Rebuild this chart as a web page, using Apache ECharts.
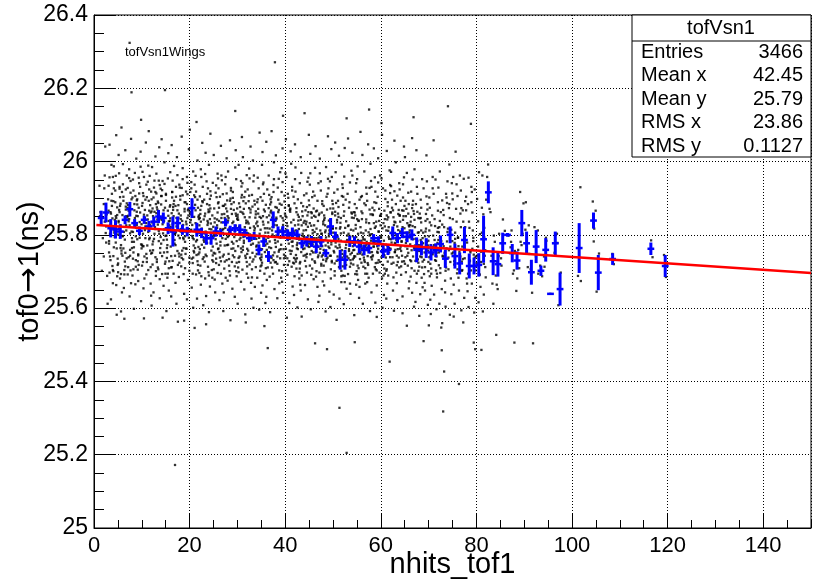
<!DOCTYPE html>
<html>
<head>
<meta charset="utf-8">
<script src="https://cdn.jsdelivr.net/npm/echarts@6/dist/echarts.min.js"></script>
<style>
  html, body { margin: 0; padding: 0; background: #fff; }
  #main { width: 815px; height: 588px; }
</style>
</head>
<body>
<div id="main"></div>
<script>
// tof0->1 values per nhits_tof1 bin (index = bin)
var scatterByHits = [
  [], // 0
  [25.862, 25.791, 25.934, 25.702, 25.851], // 1
  [25.823, 25.741, 25.897, 25.962, 25.688, 25.805, 25.927, 25.612, 25.856, 26.041, 25.779, 25.884, 25.836], // 2
  [25.912, 25.783, 25.845, 25.697, 25.958, 25.731, 25.866, 25.624, 25.803, 25.991, 25.752, 25.879, 26.046, 25.668, 25.827, 25.934, 25.715, 25.858, 25.776, 25.893, 25.741, 25.819, 25.957, 25.704, 25.862, 25.838], // 3
  [25.806, 25.921, 25.742, 25.663, 25.875, 25.987, 25.794, 25.851, 25.718, 25.943, 25.582, 25.829, 26.072, 25.766, 25.892, 25.687, 25.841, 25.961, 25.735, 25.812, 25.763, 25.889, 25.701, 25.846, 25.927, 25.779, 25.854], // 4
  [25.854, 25.772, 25.931, 25.698, 25.817, 25.885, 25.643, 26.018, 25.749, 25.903, 25.796, 25.968, 25.722, 25.862, 25.591, 25.838, 25.917, 25.764, 26.093, 25.681, 25.743, 25.868, 25.801, 25.926, 25.693, 25.834, 25.757, 25.879], // 5
  [25.893, 25.751, 25.826, 25.962, 25.704, 25.869, 25.787, 25.938, 25.655, 25.848, 26.031, 25.736, 25.904, 25.812, 25.571, 25.877, 25.993, 25.727, 25.841, 25.808, 25.714, 25.886, 25.763, 25.851, 25.692, 25.924, 25.797], // 6
  [26.324, 26.189, 25.837, 25.764, 25.915, 25.692, 25.881, 25.955, 25.743, 25.809, 26.062, 25.632, 25.866, 25.928, 25.781, 25.703, 25.852, 25.979, 25.759, 25.897, 25.668, 25.826, 25.739, 25.873, 25.791, 25.947, 25.712, 25.843, 25.804], // 7
  [25.781, 25.902, 25.846, 25.713, 25.951, 25.827, 25.665, 25.884, 26.008, 25.752, 25.921, 25.796, 25.598, 25.863, 25.735, 25.969, 25.819, 25.689, 25.906, 25.867, 25.731, 25.808, 25.894, 25.766, 25.852, 25.706, 25.839], // 8
  [26.114, 25.874, 25.728, 25.941, 25.812, 25.674, 25.897, 25.763, 26.027, 25.835, 25.705, 25.956, 25.788, 25.619, 25.861, 25.913, 25.744, 25.829, 25.986, 25.792, 25.851, 25.718, 25.883, 25.774, 25.931, 25.809, 25.747], // 9
  [25.846, 25.692, 25.914, 25.773, 25.958, 25.823, 25.654, 25.887, 26.052, 25.741, 25.868, 25.937, 25.716, 25.803, 25.572, 25.896, 25.769, 25.972, 25.832, 25.681, 25.813, 25.748, 25.879, 25.726, 25.855, 25.791, 25.906, 25.769], // 10
  [25.903, 25.757, 25.831, 25.989, 25.712, 25.866, 25.634, 25.945, 25.792, 25.853, 26.083, 25.726, 25.881, 25.808, 25.667, 25.924, 25.749, 25.842, 25.961, 25.771, 25.893, 25.736, 25.827, 25.704, 25.861, 25.788, 25.918], // 11
  [25.789, 25.872, 25.948, 25.701, 25.834, 26.014, 25.758, 25.897, 25.643, 25.816, 25.929, 25.774, 25.863, 25.688, 25.985, 25.739, 25.851, 25.607, 25.902, 25.821, 25.846, 25.719, 25.803, 25.884, 25.751, 25.917, 25.782, 25.864], // 12
  [25.858, 25.733, 25.926, 25.811, 25.679, 25.891, 25.967, 25.764, 25.842, 26.039, 25.706, 25.875, 25.794, 25.948, 25.627, 25.828, 25.913, 25.751, 25.869, 25.803, 25.887, 25.726, 25.845, 25.783, 25.936, 25.711, 25.859], // 13
  [26.195, 25.815, 25.947, 25.742, 25.883, 25.661, 25.906, 25.797, 25.853, 25.998, 25.721, 25.838, 25.574, 25.922, 25.776, 25.867, 26.061, 25.694, 25.804, 25.939, 25.874, 25.752, 25.829, 25.693, 25.906, 25.786, 25.841, 25.727], // 14
  [25.764, 25.893, 25.826, 25.709, 25.954, 25.845, 25.683, 25.877, 25.798, 26.023, 25.737, 25.912, 25.819, 25.648, 25.866, 25.971, 25.753, 25.838, 25.592, 25.852, 25.787, 25.909, 25.728, 25.837, 25.694, 25.881, 25.772], // 15
  [25.172, 25.834, 25.711, 25.902, 25.776, 25.948, 25.859, 25.694, 25.821, 25.988, 25.743, 25.876, 25.632, 25.917, 25.802, 25.729, 26.045, 25.851, 25.768, 25.893, 25.803, 25.868, 25.742, 25.917, 25.786, 25.829, 25.712, 25.884], // 16
  [25.881, 25.756, 25.937, 25.823, 25.669, 25.904, 25.791, 25.858, 26.012, 25.718, 25.846, 25.963, 25.741, 25.612, 25.879, 25.807, 25.929, 25.685, 25.834, 25.563, 25.798, 25.867, 25.724, 25.846, 25.772, 25.931, 25.811, 25.749], // 17
  [25.809, 25.928, 25.746, 25.864, 25.693, 25.982, 25.827, 25.757, 25.896, 25.639, 25.843, 26.068, 25.714, 25.871, 25.788, 25.952, 25.733, 25.819, 25.906, 25.566, 25.853, 25.737, 25.816, 25.889, 25.764, 25.908, 25.792, 25.838], // 18
  [25.853, 25.724, 25.911, 25.796, 25.958, 25.677, 25.836, 25.889, 25.762, 26.034, 25.815, 25.702, 25.942, 25.781, 25.624, 25.867, 25.918, 25.748, 25.829, 25.792, 25.871, 25.738, 25.846, 25.709, 25.884, 25.816, 25.763], // 19
  [25.927, 25.771, 25.862, 25.694, 25.834, 25.973, 25.752, 25.891, 25.812, 25.656, 25.944, 25.788, 26.087, 25.723, 25.856, 25.601, 25.908, 25.797, 25.841, 25.735, 25.814, 25.756, 25.873, 25.792, 25.917, 25.738, 25.849, 25.827], // 20
  [25.786, 25.903, 25.728, 25.849, 25.961, 25.692, 25.874, 25.811, 25.937, 25.745, 25.626, 25.882, 26.003, 25.767, 25.832, 25.918, 25.703, 25.853, 25.546, 26.108, 25.829, 25.764, 25.896, 25.747, 25.867, 25.782, 25.718, 25.843], // 21
  [25.842, 25.716, 25.889, 25.958, 25.773, 25.826, 25.664, 25.905, 25.794, 26.051, 25.739, 25.868, 25.931, 25.687, 25.817, 25.752, 25.979, 25.846, 25.608, 25.892, 25.786, 25.857, 25.734, 25.879, 25.809, 25.696, 25.836, 25.761], // 22
  [25.765, 25.884, 25.809, 25.927, 25.698, 25.851, 25.742, 25.966, 25.827, 25.633, 25.896, 25.778, 26.024, 25.713, 25.862, 25.804, 25.946, 25.681, 25.838, 25.556, 25.781, 25.912, 25.746, 25.833, 25.869, 25.727, 25.796, 25.858], // 23
  [25.898, 25.744, 25.831, 25.683, 25.919, 25.796, 25.864, 25.991, 25.727, 25.815, 25.659, 25.942, 25.778, 25.853, 26.076, 25.704, 25.881, 25.589, 25.822, 25.757, 25.843, 25.768, 25.907, 25.731, 25.872, 25.794, 25.816, 25.689], // 24
  [25.819, 25.935, 25.761, 25.872, 25.706, 25.845, 25.967, 25.788, 25.643, 25.903, 25.826, 25.735, 25.954, 25.797, 26.018, 25.678, 25.861, 25.915, 25.749, 25.776, 25.842, 25.723, 25.886, 25.801, 25.751, 25.834, 25.696], // 25
  [25.771, 25.889, 25.838, 25.694, 25.962, 25.813, 25.741, 25.904, 25.856, 25.622, 25.781, 25.927, 25.718, 26.043, 25.834, 25.667, 25.879, 25.802, 25.949, 25.753, 25.816, 25.763, 25.874, 25.728, 25.846, 25.791, 25.911, 25.738], // 26
  [25.864, 25.727, 25.913, 25.802, 25.675, 25.883, 25.958, 25.746, 25.829, 25.592, 25.894, 25.771, 26.009, 25.708, 25.851, 25.938, 25.789, 25.643, 25.872, 25.816, 25.772, 25.846, 25.731, 25.857, 25.794, 25.819, 25.683, 25.879], // 27
  [25.797, 25.928, 25.734, 25.857, 25.689, 25.973, 25.811, 25.762, 25.899, 25.653, 25.846, 25.921, 25.716, 25.781, 26.058, 25.839, 25.701, 25.884, 25.567, 25.832, 25.748, 25.871, 25.806, 25.726, 25.893, 25.773, 25.818], // 28
  [26.138, 25.843, 25.714, 25.901, 25.776, 25.952, 25.825, 25.687, 25.868, 25.739, 25.984, 25.801, 25.631, 25.917, 25.763, 25.852, 26.031, 25.724, 25.889, 25.794, 25.756, 25.872, 25.809, 25.744, 25.836, 25.701, 25.858, 25.783], // 29
  [25.822, 25.698, 25.876, 25.947, 25.753, 25.841, 25.612, 25.909, 25.787, 25.863, 25.726, 25.991, 25.808, 25.672, 25.932, 25.769, 25.855, 26.067, 25.741, 25.792, 25.886, 25.737, 25.819, 25.763, 25.902, 25.711, 25.848], // 30
  [25.886, 25.759, 25.832, 25.963, 25.705, 25.871, 25.794, 25.918, 25.651, 25.848, 25.737, 26.012, 25.812, 25.694, 25.941, 25.778, 25.857, 25.583, 25.903, 25.821, 25.561, 25.768, 25.839, 25.726, 25.861, 25.784, 25.892, 25.743, 25.806], // 31
  [25.748, 25.907, 25.819, 25.683, 25.869, 25.954, 25.773, 25.836, 25.626, 25.892, 25.714, 25.981, 25.801, 25.757, 26.041, 25.848, 25.669, 25.924, 25.786, 25.831, 25.762, 25.873, 25.738, 25.804, 25.861, 25.719, 25.792], // 32
  [25.831, 25.712, 25.946, 25.794, 25.877, 25.658, 25.823, 25.909, 25.741, 26.003, 25.768, 25.856, 25.601, 25.893, 25.727, 25.818, 25.962, 25.684, 25.847, 25.776, 25.789, 25.864, 25.733, 25.812, 25.751, 25.883, 25.798, 25.706], // 33
  [25.897, 25.762, 25.683, 25.849, 25.927, 25.731, 25.814, 25.596, 25.871, 25.748, 25.956, 25.702, 25.836, 26.079, 25.779, 25.642, 25.903, 25.792, 25.858, 25.771, 25.824, 25.736, 25.889, 25.803, 25.758, 25.846, 25.714], // 34
  [25.774, 25.869, 25.717, 25.938, 25.806, 25.662, 25.882, 25.753, 25.991, 25.828, 25.694, 25.912, 25.739, 25.851, 25.614, 26.026, 25.787, 25.864, 25.724, 25.943, 25.551, 25.797, 25.746, 25.836, 25.771, 25.893, 25.709, 25.818, 25.761], // 35
  [25.806, 25.677, 25.861, 25.739, 25.924, 25.782, 25.631, 25.853, 25.962, 25.711, 25.834, 25.759, 25.897, 25.589, 25.818, 25.686, 26.054, 25.766, 25.873, 25.491, 25.792, 25.848, 25.724, 25.883, 25.776, 25.817, 25.742, 25.909], // 36
  [26.271, 25.889, 25.752, 25.936, 25.821, 25.694, 25.903, 25.778, 25.847, 25.998, 25.725, 25.866, 25.652, 25.917, 25.801, 25.744, 26.083, 25.838, 25.711, 25.952, 25.786, 25.764, 25.827, 25.731, 25.859, 25.796, 25.737, 25.876, 25.812], // 37
  [25.843, 25.721, 25.896, 25.767, 25.953, 25.812, 25.668, 25.874, 25.736, 25.929, 25.798, 25.627, 25.862, 26.017, 25.754, 25.885, 25.703, 25.826, 25.971, 25.782, 25.847, 25.741, 25.806, 25.726, 25.868, 25.793, 25.759], // 38
  [26.125, 25.794, 25.917, 25.736, 25.858, 25.683, 25.944, 25.817, 25.761, 25.891, 25.642, 25.839, 25.982, 25.718, 25.874, 25.793, 26.036, 25.672, 25.851, 25.907, 25.827, 25.761, 25.882, 25.746, 25.809, 25.773, 25.846, 25.701], // 39
  [25.867, 25.741, 25.824, 25.958, 25.703, 25.879, 25.786, 25.614, 25.901, 25.832, 25.757, 25.968, 25.691, 25.848, 26.061, 25.776, 25.912, 25.728, 25.806, 25.574, 25.789, 25.852, 25.736, 25.814, 25.762, 25.881, 25.718, 25.796], // 40
  [25.781, 25.904, 25.722, 25.863, 25.659, 25.931, 25.807, 25.748, 25.886, 25.994, 25.713, 25.841, 25.636, 25.872, 25.769, 25.921, 25.795, 26.028, 25.687, 25.834, 25.756, 25.811, 25.737, 25.869, 25.782, 25.801, 25.724], // 41
  [25.855, 25.727, 25.918, 25.794, 25.681, 25.873, 25.952, 25.763, 25.828, 25.602, 25.897, 25.745, 25.984, 25.816, 25.698, 25.862, 26.047, 25.736, 25.839, 25.778, 25.761, 25.812, 25.733, 25.849, 25.787, 25.708, 25.826, 25.772], // 42
  [25.812, 25.689, 25.878, 25.753, 25.941, 25.797, 25.648, 25.864, 25.726, 25.908, 25.833, 25.577, 25.771, 25.969, 25.708, 25.851, 26.012, 25.786, 25.664, 25.794, 25.743, 25.826, 25.761, 25.887, 25.722, 25.803, 25.841], // 43
  [25.763, 25.894, 25.829, 25.697, 25.945, 25.781, 25.862, 25.624, 25.913, 25.745, 25.838, 26.073, 25.714, 25.876, 25.792, 25.663, 25.956, 25.822, 25.739, 25.867, 26.132, 25.776, 25.813, 25.748, 25.853, 25.729, 25.798, 25.769, 25.836], // 44
  [25.847, 25.716, 25.903, 25.774, 25.968, 25.825, 25.679, 25.881, 25.752, 25.597, 25.859, 25.937, 25.733, 25.804, 26.021, 25.691, 25.872, 25.767, 25.918, 25.791, 25.756, 25.832, 25.708, 25.813, 25.747, 25.862, 25.781], // 45
  [25.724, 25.866, 25.791, 25.941, 25.658, 25.838, 25.752, 25.907, 25.817, 25.686, 25.983, 25.771, 25.852, 25.617, 25.893, 25.739, 26.042, 25.808, 25.701, 25.864, 25.504, 25.783, 25.826, 25.744, 25.802, 25.767, 25.849, 25.728, 25.791], // 46
  [25.884, 25.762, 25.836, 25.697, 25.921, 25.803, 25.741, 25.968, 25.854, 25.673, 25.892, 25.778, 25.829, 25.634, 25.946, 25.716, 25.861, 26.008, 25.793, 25.745, 25.769, 25.812, 25.732, 25.858, 25.786, 25.721, 25.803, 25.751], // 47
  [25.771, 25.912, 25.728, 25.846, 25.662, 25.879, 25.953, 25.807, 25.734, 25.869, 25.591, 25.821, 25.985, 25.698, 25.853, 25.759, 26.069, 25.786, 25.904, 25.488, 25.812, 25.738, 25.793, 25.754, 25.841, 25.716, 25.779, 25.826], // 48
  [25.839, 25.706, 25.893, 25.774, 25.958, 25.817, 25.645, 25.872, 25.743, 25.927, 25.796, 25.681, 25.861, 26.034, 25.725, 25.884, 25.812, 25.603, 25.946, 25.768, 25.803, 25.743, 25.857, 25.781, 25.729, 25.818, 25.764, 25.836], // 49
  [25.798, 25.924, 25.752, 25.863, 25.689, 25.841, 25.971, 25.729, 25.806, 25.637, 25.887, 25.764, 25.915, 26.052, 25.701, 25.834, 25.779, 25.568, 25.872, 25.756, 25.818, 25.741, 25.789, 25.853, 25.722, 25.799, 25.768], // 50
  [25.328, 25.858, 25.737, 25.906, 25.784, 25.671, 25.849, 25.938, 25.712, 25.821, 25.626, 25.893, 25.766, 25.992, 25.804, 25.687, 25.876, 25.748, 26.016, 25.833, 25.773, 25.731, 25.817, 25.758, 25.846, 25.702, 25.789, 25.738], // 51
  [25.205, 25.773, 25.896, 25.714, 25.852, 25.959, 25.688, 25.819, 25.741, 25.904, 25.653, 25.837, 25.781, 25.928, 25.611, 25.864, 26.037, 25.726, 25.798, 25.882, 26.118, 25.718, 25.764, 25.689, 25.806, 25.743, 25.671, 25.752, 25.786], // 52
  [25.826, 25.693, 25.874, 25.751, 25.943, 25.788, 25.639, 25.861, 25.722, 25.912, 25.803, 26.063, 25.756, 25.847, 25.667, 25.889, 25.731, 25.975, 25.814, 25.782, 25.736, 25.824, 25.761, 25.858, 25.713, 25.797, 25.747], // 53
  [25.861, 25.742, 25.918, 25.796, 25.664, 25.853, 25.737, 25.962, 25.812, 25.701, 25.884, 25.581, 25.827, 25.769, 25.941, 25.693, 25.846, 26.024, 25.758, 25.873, 25.507, 25.759, 25.817, 25.733, 25.794, 25.741, 25.862, 25.778, 25.719], // 54
  [25.784, 25.903, 25.716, 25.838, 25.952, 25.677, 25.821, 25.749, 25.896, 25.628, 25.864, 25.772, 25.987, 25.709, 25.843, 25.803, 26.081, 25.734, 25.658, 25.771, 25.724, 25.806, 25.748, 25.839, 25.692, 25.786, 25.753], // 55
  [25.843, 25.713, 25.886, 25.767, 25.929, 25.694, 25.812, 25.859, 25.612, 25.748, 25.906, 25.788, 25.973, 25.726, 25.834, 25.667, 25.881, 26.018, 25.794, 25.738, 25.763, 25.804, 25.731, 25.787, 25.842, 25.709, 25.771, 25.746], // 56
  [25.801, 25.928, 25.742, 25.856, 25.683, 25.893, 25.776, 25.947, 25.718, 25.832, 25.592, 25.869, 25.758, 25.994, 25.807, 25.671, 25.912, 25.784, 26.047, 26.142, 25.752, 25.798, 25.723, 25.816, 25.766, 25.694, 25.781, 25.739], // 57
  [25.768, 25.874, 25.706, 25.832, 25.957, 25.744, 25.889, 25.802, 25.643, 25.918, 25.781, 25.856, 25.723, 26.036, 25.819, 25.694, 25.867, 25.753, 25.931, 25.615, 25.796, 25.741, 25.823, 25.768, 25.712, 25.854, 25.779, 25.733], // 58
  [25.852, 25.731, 25.904, 25.783, 25.662, 25.871, 25.943, 25.754, 25.826, 25.697, 25.962, 25.809, 25.724, 25.887, 25.576, 25.838, 26.009, 25.769, 25.852, 25.778, 25.726, 25.809, 25.751, 25.836, 25.703, 25.792, 25.762], // 59
  [25.739, 25.866, 25.792, 25.927, 25.681, 25.843, 25.761, 25.898, 25.636, 25.818, 25.954, 25.708, 25.857, 25.775, 26.073, 25.694, 25.832, 25.921, 25.746, 25.601, 26.105, 25.744, 25.797, 25.718, 25.771, 25.823, 25.689, 25.756, 25.784], // 60
  [25.821, 25.702, 25.889, 25.764, 25.936, 25.811, 25.667, 25.853, 25.738, 25.976, 25.794, 25.626, 25.878, 25.752, 25.914, 25.689, 25.842, 26.029, 25.773, 25.454, 25.763, 25.812, 25.727, 25.789, 25.739, 25.848, 25.771, 25.706], // 61
  [25.874, 25.753, 25.919, 25.806, 25.684, 25.861, 25.972, 25.739, 25.827, 25.648, 25.896, 25.778, 26.057, 25.721, 25.848, 25.762, 25.933, 25.803, 25.593, 25.867, 25.801, 25.753, 25.836, 25.779, 25.724, 25.862, 25.788, 25.812], // 62
  [25.791, 25.907, 25.726, 25.852, 25.668, 25.884, 25.759, 25.941, 25.813, 25.697, 25.868, 25.622, 25.786, 25.924, 25.743, 25.998, 25.834, 25.711, 25.857, 25.786, 25.738, 25.823, 25.761, 25.854, 25.717, 25.799, 25.774], // 63
  [25.836, 25.714, 25.902, 25.781, 25.957, 25.743, 25.866, 25.632, 25.818, 25.893, 25.762, 25.691, 25.938, 25.804, 26.041, 25.727, 25.851, 25.586, 25.879, 25.768, 25.809, 25.756, 25.841, 25.783, 25.728, 25.867, 25.794, 25.821], // 64
  [25.762, 25.884, 25.739, 25.915, 25.806, 25.673, 25.851, 25.787, 25.969, 25.716, 25.832, 25.654, 25.893, 25.751, 26.012, 25.823, 25.698, 25.871, 25.552, 25.794, 25.743, 25.826, 25.769, 25.858, 25.721, 25.806, 25.778], // 65
  [25.857, 25.728, 25.893, 25.774, 25.642, 25.836, 25.951, 25.709, 25.865, 25.793, 25.604, 25.918, 25.741, 25.827, 26.064, 25.686, 25.882, 25.758, 26.121, 25.812, 25.764, 25.849, 25.788, 25.731, 25.873, 25.796, 25.824], // 66
  [25.789, 25.912, 25.702, 25.846, 25.758, 25.931, 25.669, 25.821, 25.884, 25.733, 25.617, 25.863, 25.979, 25.724, 25.807, 25.694, 26.031, 25.771, 25.763, 25.806, 25.729, 25.784, 25.841, 25.702, 25.772, 25.748], // 67
  [25.834, 25.713, 25.896, 25.763, 25.657, 25.858, 25.741, 25.927, 25.806, 25.683, 25.874, 25.579, 25.786, 25.952, 25.727, 25.845, 25.638, 25.510, 25.777, 25.739, 25.812, 25.756, 25.846, 25.711, 25.791, 25.763], // 68
  [25.771, 25.884, 25.726, 25.905, 25.648, 25.817, 25.752, 25.946, 25.693, 25.838, 25.609, 25.869, 25.784, 26.017, 25.712, 25.857, 25.669, 25.781, 25.732, 25.809, 25.757, 25.843, 25.701, 25.774, 25.796], // 69
  [25.812, 25.694, 25.874, 25.742, 25.927, 25.661, 25.796, 25.853, 25.623, 25.766, 25.902, 25.708, 25.834, 25.584, 25.958, 25.749, 25.553, 25.764, 25.721, 25.798, 25.739, 25.826, 25.687, 25.772, 25.747], // 70
  [25.751, 25.866, 25.703, 25.912, 25.637, 25.824, 25.778, 25.951, 25.684, 25.843, 25.597, 25.889, 25.729, 26.058, 25.772, 25.731, 25.808, 25.753, 25.694, 25.786, 25.741, 25.819], // 71
  [25.838, 25.717, 25.894, 25.652, 25.783, 25.929, 25.741, 25.612, 25.862, 25.696, 25.973, 25.807, 25.559, 25.485, 25.547, 25.786, 25.743, 25.821, 25.768, 25.709, 25.794, 25.752, 25.828], // 72
  [25.763, 25.887, 25.675, 25.821, 25.738, 25.946, 25.604, 25.854, 25.711, 25.318, 25.902, 25.782, 25.643, 25.427, 25.751, 25.808, 25.702, 25.769, 25.912, 25.868], // 73
  [26.151, 25.846, 25.706, 25.913, 25.768, 25.638, 25.873, 25.749, 25.992, 25.681, 25.817, 25.582, 25.738, 25.783, 25.726, 25.814, 25.758, 25.941, 25.884], // 74
  [25.789, 25.664, 25.871, 25.728, 25.938, 25.612, 25.843, 25.752, 25.695, 26.027, 25.806, 25.577, 25.762, 25.719, 25.836, 25.778, 25.897, 25.958], // 75
  [25.727, 25.858, 25.648, 25.792, 25.906, 25.683, 25.821, 25.594, 25.754, 25.962, 25.702, 25.393, 25.741, 25.793, 25.706, 25.769, 25.921, 25.873], // 76
  [25.836, 25.704, 25.892, 25.762, 25.628, 25.867, 25.734, 25.953, 25.681, 25.797, 25.561, 25.768, 25.821, 25.736, 25.789, 25.904, 25.867], // 77
  [25.703, 25.819, 25.667, 25.884, 25.752, 25.603, 25.931, 25.728, 25.836, 25.646, 26.103, 25.731, 25.779, 25.694, 25.756, 25.956, 25.889], // 78
  [25.746, 25.628, 25.861, 25.703, 25.792, 25.924, 25.667, 25.812, 25.588, 25.741, 25.506, 25.488, 25.762, 25.714, 25.783, 25.738, 25.917], // 79
  [25.692, 25.837, 25.754, 25.616, 25.898, 25.723, 25.971, 25.658, 25.802, 25.744, 25.691, 25.768, 25.726], // 80
  [25.874, 25.712, 25.637, 25.819, 25.962, 25.743, 25.591, 25.856, 25.684, 25.486, 25.806, 25.758, 25.721, 25.793], // 81
  [25.871, 25.958, 25.896, 25.992, 25.862], // 82
  [25.667, 25.781, 25.612, 25.743, 25.798], // 83
  [25.742, 25.664, 25.803, 25.727, 25.689, 25.652, 25.527], // 84
  [25.811, 25.736, 25.842, 25.716], // 85
  [25.802, 25.798], // 86
  [25.781, 25.703, 25.766, 25.694, 25.812, 25.506], // 87
  [25.681, 25.756, 25.709, 25.647, 25.759], // 88
  [25.886, 25.772, 25.917, 25.803, 25.781], // 89
  [25.814, 25.712, 25.763, 25.826, 25.889], // 90
  [25.642, 25.748, 25.706, 25.504], // 91
  [25.821, 25.694, 25.812, 25.741], // 92
  [25.687, 25.716], // 93
  [25.792, 25.713, 25.784, 25.741], // 94
  [25.639], // 95
  [25.803, 25.751, 25.778], // 96
  [25.608, 25.697], // 97
  [], [], [], // 98-100
  [25.930, 25.688, 25.674], // 101
  [], [], // 102-103
  [25.891, 25.866, 25.782, 25.817], // 104
  [25.749, 25.645], // 105
  [], [], // 106-107
  [25.748, 25.720], // 108
  [], [], [], [], [], [], [], // 109-115
  [25.785, 25.739], // 116
  [], [], // 117-118
  [25.745, 25.685] // 119
];

// position of each entry inside its bin, in tenths of a bin (one digit per entry)
var hitsFrac = [
  '', '38162', '5092741863502',
  '718294053617294085163729405816', '240681359274610835927406158392', '963025817492036185749203617485',
  '157836402958173604925817360492', '482960135874209613587420961358', '305719648227391580647193825064',
  '831462097513086429751308642975', '692047318569024731856902473185', '074385926140738592614073859261',
  '526918304752691830475269183047', '419573082641957308264195730826', '863205194786320519478632051947',
  '207649381520764938152076493815', '951384260795138426079513842607', '648201973564820197356482019735',
  '132975640813297564081329756408', '795046213879504621387950462138', '380617952438061795243806179524',
  '516823790451682379045168237904', '927450318692745031869274503186', '063891527406389152740638915274',
  '284736109528473610952847361095', '759102843675910284367591028436', '401568937240156893724015689372',
  '837294516083729451608372945160', '162840375916284037591628403759', '594017682359401768235940176823',
  '325781094632578109463257810946', '718903264571890326457189032645', '046275819304627581930462758193',
  '983516407298351640729835164072', '271649853027164985302716498530', '650382971465038297146503829714',
  '419827065341982706534198270653', '807534192680753419268075341926', '135068729413506872941350687294',
  '562791430856279143085627914308', '904217586390421758639042175863', '378054619237805461923780546192',
  '621893047562189304756218930475', '847306251984730625198473062519', '093561874209356187420935618742',
  '516724908351672490835167249083', '260978315426097831542609783154', '739145620873914562087391456208',
  '485210936748521093674852109367', '158679243015867924301586792430', '692438570169243857016924385701',
  '304867192530486719253048671925', '876023459187602345918760234591', '213954687021395468702139546870',
  '547186302954718630295471863029', '981302765498130276549813027654', '035697812403569781240356978124',
  '762841093576284109357628410935', '429573610842957361084295736108', '853016429785301642978530164297',
  '170428596317042859631704285963', '614795320861479532086147953208', '398260147539826014753982601475',
  '745931086274593108627459310862', '026384759102638475910263847591', '581709234658170923465817092346',
  '937152648093715264809371526480', '260895413726089541372608954137', '403671298540367129854036712985',
  '879524160387952416038795241603', '152486073915248607391524860739', '695013847269501384726950138472',
  '318760925431876092543187609254', '784239516078423951607842395160', '041957283604195728360419572836',
  '527384019652738401965273840196', '963102784593610278459361027845', '206548139720654813972065481397',
  '850273964185027396418502739641', '471836025947183602594718360259', '639410587263941058726394105872',
  '185627349018562734901856273490', '72049', '38516', '6273041', '9152', '47', '281639', '50937',
  '84162', '27593', '6038', '1984', '73', '5261', '4', '839', '16',
  '', '', '', '728', '', '', '3956', '61', '', '', '47', '', '', '', '', '', '', '', '58', '', '', '26'
];

// profile (blue): bin centre, mean, error on mean
var profX = [1.5, 2.5, 3.5, 4.5, 5.5, 6.5, 7.5, 8.5, 9.5, 10.5, 11.5, 12.5, 13.5, 14.5, 15.5, 16.5,
  17.5, 18.5, 19.5, 20.5, 21.5, 22.5, 23.5, 24.5, 25.5, 26.5, 27.5, 28.5, 29.5, 30.5, 31.5, 32.5,
  33.5, 34.5, 35.5, 36.5, 37.5, 38.5, 39.5, 40.5, 41.5, 42.5, 43.5, 44.5, 45.5, 46.5, 47.5, 48.5,
  49.5, 50.5, 51.5, 52.5, 53.5, 54.5, 55.5, 56.5, 57.5, 58.5, 59.5, 60.5, 61.5, 62.5, 63.5, 64.5,
  65.5, 66.5, 67.5, 68.5, 69.5, 70.5, 71.5, 72.5, 73.5, 74.5, 75.5, 76.5, 77.5, 78.5, 79.5, 80.5,
  81.5, 82.5, 83.5, 84.5, 85.5, 86.5, 87.5, 88.5, 89.5, 90.5, 91.5, 92.5, 93.5, 94.5, 95.5, 96.5,
  97.5, 101.5, 104.5, 105.5, 108.5, 116.5, 119.5];
var profY = [25.846, 25.861, 25.818, 25.815, 25.809, 25.841, 25.870, 25.832, 25.811, 25.841, 25.823, 25.836, 25.850, 25.846, 25.818, 25.809,
  25.832, 25.814, 25.809, 25.873, 25.814, 25.805, 25.791, 25.791, 25.809, 25.805, 25.834, 25.814, 25.818, 25.814, 25.805, 25.791,
  25.797, 25.759, 25.782, 25.741, 25.841, 25.809, 25.809, 25.800, 25.805, 25.800, 25.777, 25.782, 25.782, 25.768, 25.782, 25.750,
  25.823, 25.795, 25.732, 25.732, 25.782, 25.782, 25.768, 25.759, 25.764, 25.791, 25.782, 25.755, 25.759, 25.805, 25.791, 25.805,
  25.795, 25.800, 25.759, 25.764, 25.764, 25.752, 25.758, 25.775, 25.735, 25.800, 25.742, 25.722, 25.786, 25.715, 25.715, 25.718,
  25.788, 25.916, 25.728, 25.720, 25.777, 25.800, 25.750, 25.730, 25.832, 25.777, 25.698, 25.768, 25.702, 25.759, 25.639, 25.777,
  25.652, 25.764, 25.839, 25.697, 25.734, 25.762, 25.715];
var profErr = [0.020, 0.027, 0.025, 0.025, 0.020, 0.012, 0.020, 0.011, 0.012, 0.011, 0.015, 0.014, 0.018, 0.015, 0.016, 0.041,
  0.018, 0.014, 0.013, 0.027, 0.019, 0.014, 0.018, 0.018, 0.014, 0.011, 0.011, 0.011, 0.011, 0.015, 0.012, 0.011,
  0.011, 0.015, 0.015, 0.015, 0.023, 0.014, 0.015, 0.015, 0.015, 0.014, 0.014, 0.014, 0.015, 0.018, 0.015, 0.011,
  0.023, 0.014, 0.027, 0.027, 0.015, 0.014, 0.018, 0.015, 0.015, 0.011, 0.014, 0.018, 0.014, 0.018, 0.014, 0.014,
  0.015, 0.015, 0.034, 0.020, 0.027, 0.022, 0.019, 0.023, 0.025, 0.023, 0.034, 0.030, 0.036, 0.034, 0.023, 0.032,
  0.064, 0.030, 0.038, 0.034, 0.029, 0.005, 0.025, 0.025, 0.036, 0.032, 0.034, 0.045, 0.014, 0.032, 0.002, 0.032,
  0.045, 0.068, 0.022, 0.048, 0.016, 0.017, 0.030];

// linear fit (red)
var fitX = [0.5, 150];
var fitY = [25.827, 25.696];

var statLabels = ['Entries', 'Mean x', 'Mean y', 'RMS x', 'RMS y'];
var statValues = ['3466', '42.45', '25.79', '23.86', '0.1127'];

var FONT = '"Liberation Sans", Arial, sans-serif';

var scatterData = [];
scatterByHits.forEach(function (ys, n) {
  var fr = hitsFrac[n] || '';
  ys.forEach(function (y, i) {
    var d = fr.charAt(i);
    var off = d === '' ? 0.5 : (parseInt(d, 10) + 0.5) / 10;
    scatterData.push([n + off, y]);
  });
});
var profData = profX.map(function (x, i) { return [x, profY[i], profErr[i]]; });
var fitData = fitX.map(function (x, i) { return [x, fitY[i]]; });

var chart = echarts.init(document.getElementById('main'));

var statsGraphic = [
  { type: 'rect', shape: { x: 632, y: 15, width: 179, height: 142 },
    style: { fill: '#fff', stroke: '#000', lineWidth: 1 }, z: 100 },
  { type: 'line', shape: { x1: 632, y1: 41, x2: 811, y2: 41 },
    style: { stroke: '#000', lineWidth: 1 }, z: 101 },
  { type: 'text', x: 721, y: 28, z: 101,
    style: { text: 'tofVsn1', font: '20px ' + FONT, fill: '#000', align: 'center', verticalAlign: 'middle' } },
  { type: 'text', x: 125, y: 52, z: 101,
    style: { text: 'tofVsn1Wings', font: '13px ' + FONT, fill: '#000', align: 'left', verticalAlign: 'middle' } }
];
statLabels.forEach(function (lab, i) {
  var y = 52 + i * 23.5;
  statsGraphic.push({ type: 'text', x: 641, y: y, z: 101,
    style: { text: lab, font: '20px ' + FONT, fill: '#000', align: 'left', verticalAlign: 'middle' } });
  statsGraphic.push({ type: 'text', x: 803, y: y, z: 101,
    style: { text: statValues[i], font: '20px ' + FONT, fill: '#000', align: 'right', verticalAlign: 'middle' } });
});

var option = {
  animation: false,
  backgroundColor: '#fff',
  grid: {
    left: 94, right: 4, top: 15, bottom: 60, containLabel: false, outerBoundsMode: 'none',
    show: true, borderColor: '#000', borderWidth: 1, backgroundColor: 'transparent'
  },
  xAxis: [
    {
      type: 'value', min: 0, max: 150, interval: 20,
      name: 'nhits_tof1', nameLocation: 'middle', nameGap: 22, nameMoveOverlap: false,
      nameTextStyle: { fontFamily: FONT, fontSize: 29, color: '#000' },
      axisLine: { lineStyle: { color: '#000', width: 1 } },
      axisTick: { inside: true, length: 15, lineStyle: { color: '#000' } },
      axisLabel: { fontFamily: FONT, fontSize: 22, color: '#000', margin: 7, showMaxLabel: false },
      splitLine: { show: true, lineStyle: { color: '#000', type: [1, 2], width: 1 } }
    },
    {
      type: 'value', min: 0, max: 150, interval: 5, position: 'bottom',
      axisLine: { show: false },
      axisTick: { inside: true, length: 8, lineStyle: { color: '#000' } },
      axisLabel: { show: false },
      splitLine: { show: false }
    }
  ],
  yAxis: {
    type: 'value', min: 25, max: 26.4, interval: 0.2,
    name: '{a|tof0}{b|\u2192}{a|1(ns)}', nameLocation: 'middle', nameGap: 49, nameRotate: 90, nameMoveOverlap: false,
    nameTextStyle: {
      color: '#000',
      rich: {
        a: { fontFamily: FONT, fontSize: 29, color: '#000' },
        b: { fontFamily: '"DejaVu Sans"', fontSize: 31, color: '#000' }
      }
    },
    axisLine: { lineStyle: { color: '#000', width: 1 } },
    axisTick: { inside: true, length: 21, lineStyle: { color: '#000' } },
    minorTick: { show: true, splitNumber: 4, length: 10, lineStyle: { color: '#000' } },
    axisLabel: { fontFamily: FONT, fontSize: 23, color: '#000', margin: 6,
      formatter: function (v) { return String(+v.toFixed(1)); } },
    splitLine: { show: true, lineStyle: { color: '#000', type: [1, 2], width: 1 } }
  },
  graphic: statsGraphic,
  series: [
    {
      type: 'scatter', data: scatterData, symbol: 'rect', symbolSize: 2.3,
      itemStyle: { color: '#000' }, silent: true, z: 2
    },
    {
      type: 'custom', data: profData, silent: true, z: 3,
      renderItem: function (params, api) {
        var x = api.value(0), y = api.value(1), e = api.value(2);
        var c = api.coord([x, y]);
        var top = api.coord([x, y + e]);
        var bot = api.coord([x, y - e]);
        var l = api.coord([x - 0.5, y]);
        var r = api.coord([x + 0.5, y]);
        return { type: 'group', children: [
          { type: 'line', shape: { x1: c[0], y1: top[1], x2: c[0], y2: bot[1] }, style: { stroke: '#0000ff', lineWidth: 3 } },
          { type: 'line', shape: { x1: l[0] - 1, y1: c[1], x2: r[0] + 1, y2: c[1] }, style: { stroke: '#0000ff', lineWidth: 2.5 } }
        ] };
      }
    },
    {
      type: 'line', data: fitData, showSymbol: false, silent: true, z: 4,
      lineStyle: { color: '#ff0000', width: 2.5 }
    }
  ]
};
chart.setOption(option);
</script>
</body>
</html>
